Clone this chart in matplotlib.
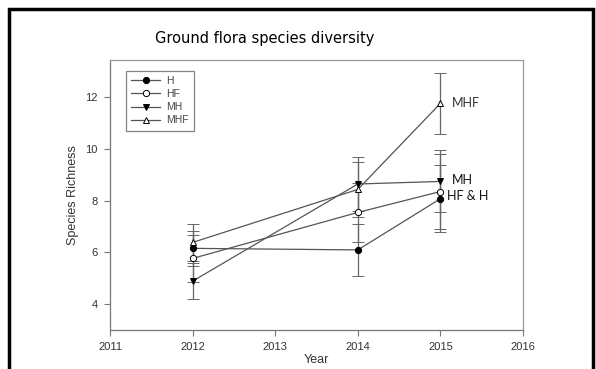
import matplotlib.pyplot as plt
from matplotlib.patches import Rectangle
from matplotlib.lines import Line2D

# species richness per treatment (mean and error)
years = [2012, 2014, 2015]
h_mean = [6.16, 6.10, 8.08]
h_err = [0.67, 1.01, 1.30]
hf_mean = [5.77, 7.55, 8.36]
hf_err = [0.90, 1.14, 1.45]
mh_mean = [4.89, 8.65, 8.75]
mh_err = [0.70, 1.05, 1.20]
mhf_mean = [6.39, 8.44, 11.77]
mhf_err = [0.71, 1.07, 1.17]

series = [
    ("H", h_mean, h_err, "o", "black"),
    ("HF", hf_mean, hf_err, "o", "white"),
    ("MH", mh_mean, mh_err, "v", "black"),
    ("MHF", mhf_mean, mhf_err, "^", "white"),
]

line_col = "#555555"

fig = plt.figure(figsize=(5.96, 3.69), dpi=100)
ax = fig.add_axes([0.1846, 0.1057, 0.6929, 0.7317])

handles = []
for name, m, e, mk, fc in series:
    ax.errorbar(years, m, yerr=e, color=line_col, lw=0.9, elinewidth=0.9,
                capsize=4, capthick=0.9, marker=mk, markersize=4.5,
                markerfacecolor=fc, markeredgecolor="black", markeredgewidth=0.7,
                ecolor="#666666", zorder=3)
    handles.append(Line2D([0], [0], color=line_col, lw=0.9, marker=mk,
                          markersize=4.5, markerfacecolor=fc,
                          markeredgecolor="black", markeredgewidth=0.7))

ax.set_xlim(2011, 2016)
ax.set_ylim(3, 13.45)
ax.set_xticks([2011, 2012, 2013, 2014, 2015, 2016])
ax.set_yticks([4, 6, 8, 10, 12])
ax.tick_params(direction="out", length=4, width=0.8, colors="#777777",
               labelcolor="#333333", labelsize=8, top=False, right=False, pad=5)
for lab in ax.get_xticklabels() + ax.get_yticklabels():
    lab.set_family("Liberation Sans")
for sp in ax.spines.values():
    sp.set_color("#999999")
    sp.set_linewidth(0.9)
ax.spines["left"].set_color("#777777")
ax.spines["bottom"].set_color("#777777")

ax.set_xlabel("Year", family="Liberation Sans", fontsize=9, color="#333333", labelpad=1)
ax.set_ylabel("Species Richness", family="Liberation Sans", fontsize=9,
              color="#333333", labelpad=4)

leg = ax.legend(handles, [s[0] for s in series], loc="upper left",
                bbox_to_anchor=(0.038, 0.96), prop={"family": "Liberation Sans", "size": 7.5},
                frameon=True, fancybox=False, handlelength=2.8, handletextpad=0.6,
                labelspacing=0.3, borderpad=0.5, borderaxespad=0,
                labelcolor="#444444")
leg.get_frame().set_edgecolor("#666666")
leg.get_frame().set_linewidth(0.9)

# labels next to the 2015 points
ax.annotate("MHF", (2015, mhf_mean[2]), xytext=(8, 0), textcoords="offset points",
            family="Lato", fontsize=9, color="#333333", va="center")
ax.annotate("MH", (2015, mh_mean[2]), xytext=(8, 1), textcoords="offset points",
            family="Lato", fontsize=9, color="#111111", va="center")
ax.annotate("HF & H", (2015, hf_mean[2]), xytext=(5, -3), textcoords="offset points",
            family="Lato", fontsize=9, color="#111111", va="center")

fig.text(0.4438, 0.897, "Ground flora species diversity", family="DejaVu Sans",
         fontsize=10.5, ha="center", va="center", color="black")

# slide frame
fig.patches.append(Rectangle((0.0143, -0.05), 0.9815, 1.025, transform=fig.transFigure,
                             fill=False, edgecolor="black", linewidth=2.5))

fig.savefig("out.png", dpi=100)
